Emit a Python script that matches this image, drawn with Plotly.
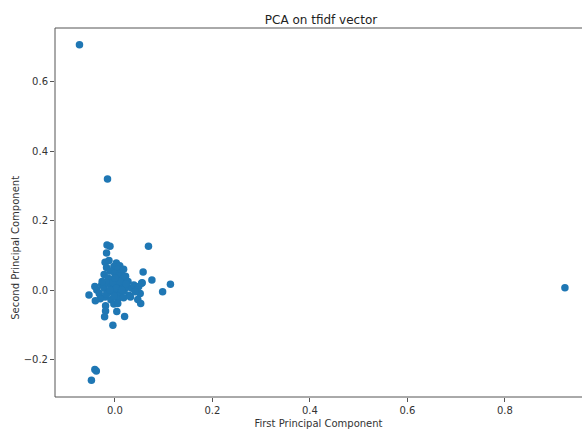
import plotly.graph_objects as go

# PCA component values
pc1 = [
    -0.0725, 0.923, -0.041, -0.038, -0.048, -0.015,
    -0.016, -0.010, -0.017, 0.069, 0.058, 0.076, 0.114, 0.098, 0.056,
    -0.020, -0.012, 0.003, 0.010, -0.017, -0.002, 0.006, -0.010, 0.013, -0.022,
    0.000, 0.008, -0.014, 0.016, -0.006, 0.018, 0.022, 0.027,
    -0.041, -0.037, -0.032, -0.027, -0.022, -0.020, -0.014, -0.012, -0.007, -0.002,
    0.001, 0.004, 0.008, 0.012, 0.016, 0.019, 0.025, 0.029, 0.035, 0.039, 0.045,
    0.049, 0.052, 0.055, -0.030, -0.008, 0.006, 0.018, 0.032, -0.004, 0.010,
    -0.026, 0.042, 0.023, -0.017, -0.002, 0.003, -0.010, 0.014, 0.000,
    -0.019, -0.002, 0.004, 0.020, -0.019, -0.021, -0.004, 0.006, 0.047, 0.053,
    -0.040, -0.053,
]
pc2 = [
    0.707, 0.007, -0.229, -0.233, -0.260, 0.320,
    0.130, 0.126, 0.107, 0.126, 0.052, 0.029, 0.017, -0.005, 0.021,
    0.080, 0.085, 0.078, 0.070, 0.065, 0.068, 0.060, 0.055, 0.050, 0.045,
    0.048, 0.040, 0.035, 0.032, 0.030, 0.060, 0.040, 0.025,
    0.010, 0.000, -0.010, 0.015, 0.005, -0.020, 0.020, -0.005, 0.010, 0.000,
    -0.012, 0.015, 0.004, -0.008, 0.012, -0.002, 0.008, -0.015, 0.005, 0.015, 0.000,
    0.010, -0.010, 0.020, -0.025, -0.028, -0.025, -0.022, -0.020, 0.022, 0.025,
    0.025, -0.005, 0.018, -0.012, -0.018, 0.005, 0.000, 0.000, 0.035,
    -0.045, -0.040, -0.062, -0.076, -0.060, -0.077, -0.101, -0.039, -0.027, -0.039,
    -0.031, -0.014,
]
x_ticks = [0.0, 0.2, 0.4, 0.6, 0.8]
y_ticks = [-0.2, 0.0, 0.2, 0.4, 0.6]

fig = go.Figure(go.Scatter(
    x=pc1, y=pc2, mode="markers",
    marker=dict(color="#1f77b4", size=7.5, line=dict(width=0)),
))

axis_common = dict(
    showgrid=False, zeroline=False, showline=False,
    ticks="outside", ticklen=4, tickcolor="#555555", tickwidth=1,
    tickfont=dict(family="DejaVu Sans", size=10, color="#333333"),
    tickformat=".1f",
)

L, T, B = 54.5, 28, 400
frame = dict(color="#555555", width=1)
fig.update_layout(
    width=582, height=429,
    margin=dict(l=L, r=0, t=T, b=429 - B),
    paper_bgcolor="white", plot_bgcolor="white",
    showlegend=False,
    title=dict(text="PCA on tfidf vector", x=321 / 582, xanchor="center",
               y=1 - 20 / 429, yanchor="middle",
               font=dict(family="DejaVu Sans", size=12, color="#222222")),
    xaxis=dict(**axis_common, range=[-0.1227, 0.958], tickvals=x_ticks,
               title=dict(text="First Principal Component", standoff=6,
                          font=dict(family="DejaVu Sans", size=10, color="#333333"))),
    yaxis=dict(**axis_common, range=[-0.308, 0.755], tickvals=y_ticks),
    annotations=[
        dict(text="Second Principal Component", xref="paper", yref="paper",
             x=(15 - L) / (582 - L), y=(B - 250) / (B - T), xanchor="center", yanchor="middle",
             textangle=-90, showarrow=False,
             font=dict(family="DejaVu Sans", size=10, color="#333333")),
    ],
    shapes=[
        dict(type="line", xref="paper", yref="paper", x0=0, x1=0, y0=0, y1=1, line=frame),
        dict(type="line", xref="paper", yref="paper", x0=0, x1=1, y0=1, y1=1, line=frame),
        dict(type="line", xref="paper", yref="paper", x0=0, x1=1, y0=0, y1=0, line=frame),
    ],
)

fig.write_html("out.html")
